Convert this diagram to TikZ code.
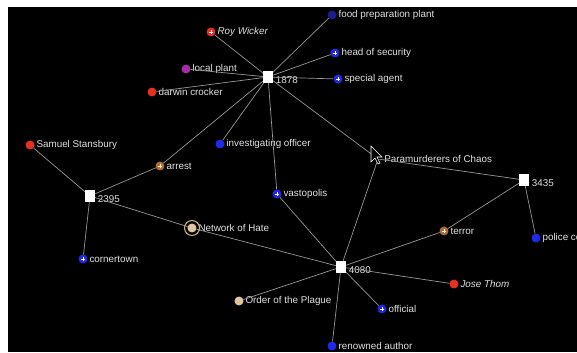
\documentclass[tikz,border=0pt]{standalone}
\usepackage{fontspec}
\setmainfont{Liberation Sans}
\usepackage{tikz}
\usetikzlibrary{positioning}

\definecolor{dotred}{RGB}{232,48,32}
\definecolor{dotblue}{RGB}{34,40,232}
\definecolor{dotnavy}{RGB}{28,28,140}
\definecolor{dotpurple}{RGB}{165,45,165}
\definecolor{dotorange}{RGB}{185,105,45}
\definecolor{dottan}{RGB}{225,196,160}
\definecolor{ringtan}{RGB}{200,180,120}
\definecolor{edgegray}{RGB}{150,150,150}
\definecolor{labelgray}{RGB}{225,225,225}

\begin{document}
\begin{tikzpicture}[x=0.03cm, y=-0.03cm,
    hub/.style={rectangle, fill=white, minimum width=0.27cm, minimum height=0.36cm, inner sep=0},
    dot/.style={circle, minimum size=0.26cm, inner sep=0},
    lbl/.style={text=labelgray, font=\fontsize{8.4}{9}\selectfont, inner sep=0},
    link/.style={draw=edgegray, line width=0.6pt}]

    % Canvas
    \useasboundingbox (0,0) rectangle (577,352);
    \clip (0,0) rectangle (577,352);
    \fill[white] (0,0) rectangle (577,352);
    \fill[black] (8,7) rectangle (577,352);

    % Event squares
    \foreach \id/\px/\py in {1878/268/77, 2395/90/196, 3435/524/180, 4080/341/267} {
        \node[hub, label={[lbl, label distance=2.5pt, yshift=-2.5pt]right:\id}] (n\id) at (\px,\py) {};
    }

    % Entities (coloured dots)
    \foreach \id/\px/\py/\col/\txt in {
        food/332/15/dotnavy/food preparation plant,
        roy/211/32/dotred/\itshape Roy Wicker,
        head/335/53/dotblue/head of security,
        agent/338/79/dotblue/special agent,
        localp/186/69/dotpurple/local plant,
        darwin/152/92/dotred/darwin crocker,
        samuel/30/145/dotred/Samuel Stansbury,
        arrest/160/166/dotorange/arrest,
        invest/220/144/dotblue/investigating officer,
        vasto/277/194/dotblue/vastopolis,
        hate/192/228/dottan/Network of Hate,
        corner/83/259/dotblue/cornertown,
        terror/444/231/dotorange/terror,
        police/536/238/dotblue/police contact,
        plague/239/301/dottan/Order of the Plague,
        jose/454/284/dotred/\itshape Jose Thom,
        official/382/309/dotblue/official,
        author/332/346/dotblue/renowned author} {
        \node[dot, fill=\col, label={[lbl, label distance=1.5pt]right:\txt}] (\id) at (\px,\py) {};
    }

    % Group under the pointer
    \node[inner sep=0, minimum size=2pt, label={[lbl, label distance=4pt]right:Paramurderers of Chaos}] (para) at (378,159) {};

    % Links
    \foreach \a/\b in {n1878/food, n1878/roy, n1878/head, n1878/agent, n1878/localp,
                       n1878/darwin, n1878/arrest, n1878/invest, n1878/vasto, n1878/para,
                       n2395/samuel, n2395/arrest, n2395/hate, n2395/corner,
                       n3435/para, n3435/terror, n3435/police,
                       n4080/vasto, n4080/hate, n4080/para, n4080/terror, n4080/jose,
                       n4080/official, n4080/author, n4080/plague} {
        \draw[link] (\a) -- (\b);
    }

    % Redraw dots on top of the links
    \foreach \id/\col in {food/dotnavy, roy/dotred, head/dotblue, agent/dotblue, localp/dotpurple,
                          darwin/dotred, samuel/dotred, arrest/dotorange, invest/dotblue,
                          vasto/dotblue, hate/dottan, corner/dotblue, terror/dotorange,
                          police/dotblue, plague/dottan, jose/dotred, official/dotblue, author/dotblue} {
        \fill[\col] (\id) circle (4.3);
    }
    \foreach \id in {1878, 2395, 3435, 4080} {
        \fill[white] (n\id.south west) rectangle (n\id.north east);
    }
    \draw[ringtan, line width=0.9pt] (hate) circle (7.5);

    % Small plus marks
    \foreach \id in {roy, head, agent, arrest, vasto, corner, terror, official} {
        \draw[white, line width=0.4pt] (\id.center) ++(-1.3pt,0) -- ++(2.6pt,0)
                                       (\id.center) ++(0,-1.3pt) -- ++(0,2.6pt);
    }

    % Mouse pointer
    \draw[white, fill=black, line width=0.5pt, line join=miter]
        (371,146) -- ++(0,16) -- ++(4,-4) -- ++(3,6) -- ++(2,-1) -- ++(-3,-6) -- ++(5,0) -- cycle;
\end{tikzpicture}
\end{document}
